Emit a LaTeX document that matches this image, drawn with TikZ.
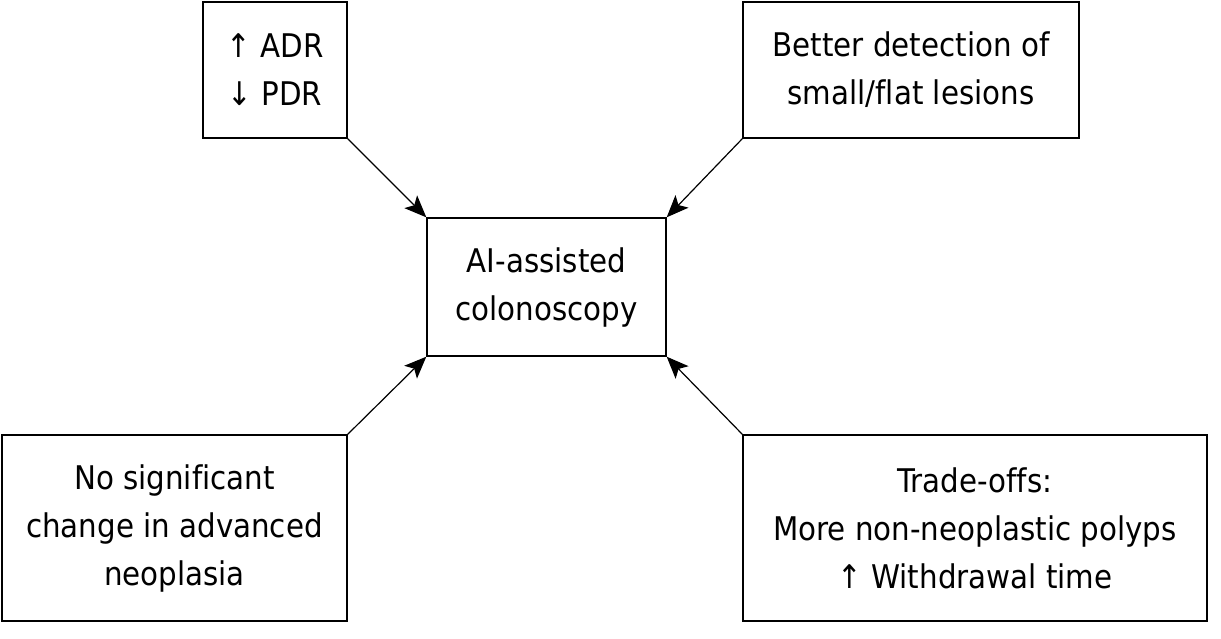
\documentclass[tikz,border=0pt]{standalone}
\usepackage{fontspec}
\setmainfont[Ligatures=NoCommon]{DejaVu Sans Condensed}
\usetikzlibrary{arrows.meta}
\tikzset{
    effect box/.style = {draw, line width=0.7pt, align=center, inner sep=0pt,
        font=\fontsize{16.3}{24}\selectfont},
    effect arrow/.style = {draw, line width=0.6pt, -{Stealth[length=11pt, width=9pt, inset=2.5pt]}},
}

\begin{document}
\begin{tikzpicture}[x=0.5pt, y=-0.5pt]
				\useasboundingbox (0, 0) rectangle (1221, 638);
				\node[effect box, minimum width=72pt, minimum height=68pt] (ADR) at (275, 70) {↑ ADR\\↓ PDR};
				\node[effect box, minimum width=168pt, minimum height=68pt] (Better) at (911, 70) {Better detection of\\small/flat lesions};
				\node[effect box, minimum width=119.5pt, minimum height=69pt] (AI) at (546.5, 287) {AI-assisted\\colonoscopy};
				\node[effect box, minimum width=172.5pt, minimum height=93pt] (NoSig) at (174.5, 528) {No significant\\change in advanced\\neoplasia};
				\node[effect box, minimum width=232pt, minimum height=93pt] (Trade) at (975, 528) {Trade-offs:\\More non-neoplastic polyps\\↑ Withdrawal time};

				\draw[effect arrow] (ADR.south east) -- (AI.north west);
				\draw[effect arrow] (Better.south west) -- (AI.north east);
				\draw[effect arrow] (NoSig.north east) -- (AI.south west);
				\draw[effect arrow] (Trade.north west) -- (AI.south east);
			\end{tikzpicture}
\end{document}
